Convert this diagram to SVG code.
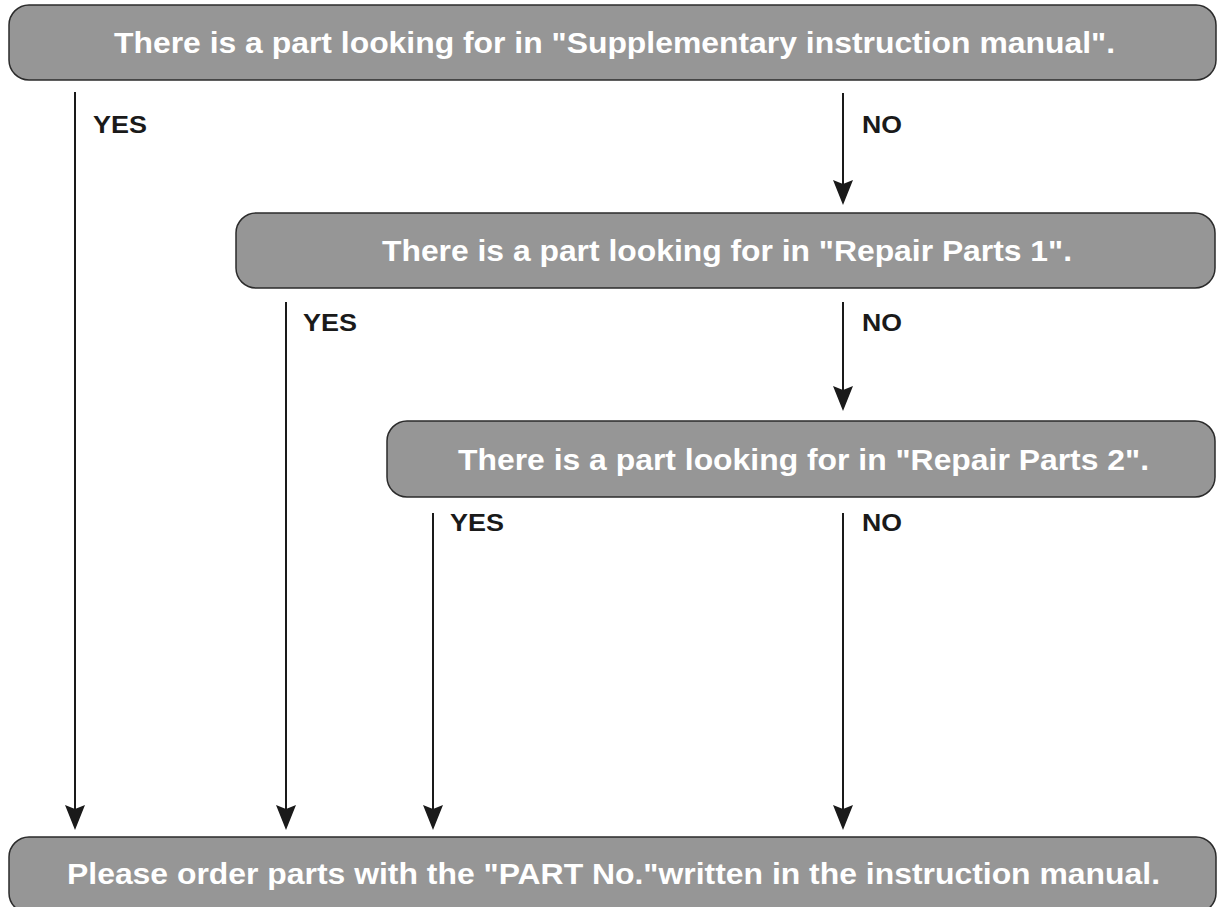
<svg xmlns="http://www.w3.org/2000/svg" width="1217" height="907" viewBox="0 0 1217 907">
  <style>
    .box { fill: #969696; stroke: #2b2b2b; stroke-width: 1.5; }
    .box-text { font-family: "Liberation Sans", Arial, sans-serif; font-weight: bold; font-size: 30px; fill: #ffffff; }
    .label { font-family: "Liberation Sans", Arial, sans-serif; font-weight: bold; font-size: 23px; fill: #1a1a1a; }
    .flow { stroke: #1a1a1a; stroke-width: 2; fill: none; marker-end: url(#head); }
  </style>
  <defs>
    <!-- notched arrowhead, 25 long x 20 wide, drawn along +x -->
    <marker id="head" markerUnits="userSpaceOnUse" markerWidth="26" markerHeight="22" refX="21" refY="10" orient="auto" viewBox="0 0 26 22">
      <path d="M0,0 L25,10 L0,20 L4,10 Z" fill="#1a1a1a"/>
    </marker>
  </defs>

  <g id="connectors">
    <!-- YES branches down to the final step -->
    <line class="flow" x1="75" y1="92" x2="75" y2="826"/>
    <line class="flow" x1="286" y1="302" x2="286" y2="826"/>
    <line class="flow" x1="433" y1="513" x2="433" y2="826"/>
    <!-- NO branches -->
    <line class="flow" x1="843" y1="93" x2="843" y2="201"/>
    <line class="flow" x1="843" y1="302" x2="843" y2="407"/>
    <line class="flow" x1="843" y1="513" x2="843" y2="826"/>
    <text class="label" x="93" y="133" textLength="54" lengthAdjust="spacingAndGlyphs">YES</text>
    <text class="label" x="862" y="133" textLength="40" lengthAdjust="spacingAndGlyphs">NO</text>
    <text class="label" x="303" y="331" textLength="54" lengthAdjust="spacingAndGlyphs">YES</text>
    <text class="label" x="862" y="331" textLength="40" lengthAdjust="spacingAndGlyphs">NO</text>
    <text class="label" x="450" y="531" textLength="54" lengthAdjust="spacingAndGlyphs">YES</text>
    <text class="label" x="862" y="531" textLength="40" lengthAdjust="spacingAndGlyphs">NO</text>
  </g>

  <g id="node-supplementary">
    <rect class="box" x="9" y="5" width="1207" height="75" rx="20" ry="20"/>
    <text class="box-text" x="114" y="53" textLength="1001" lengthAdjust="spacingAndGlyphs">There is a part looking for in "Supplementary instruction manual".</text>
  </g>

  <g id="node-repair1">
    <rect class="box" x="236" y="213" width="979" height="75" rx="20" ry="20"/>
    <text class="box-text" x="382" y="261" textLength="690" lengthAdjust="spacingAndGlyphs">There is a part looking for in "Repair Parts 1".</text>
  </g>

  <g id="node-repair2">
    <rect class="box" x="387" y="421" width="828" height="76" rx="20" ry="20"/>
    <text class="box-text" x="458" y="470" textLength="691" lengthAdjust="spacingAndGlyphs">There is a part looking for in "Repair Parts 2".</text>
  </g>

  <g id="node-order">
    <rect class="box" x="9" y="837" width="1207" height="76" rx="20" ry="20"/>
    <text class="box-text" x="67" y="884" textLength="1093" lengthAdjust="spacingAndGlyphs">Please order parts with the "PART No."written in the instruction manual.</text>
  </g>
</svg>
